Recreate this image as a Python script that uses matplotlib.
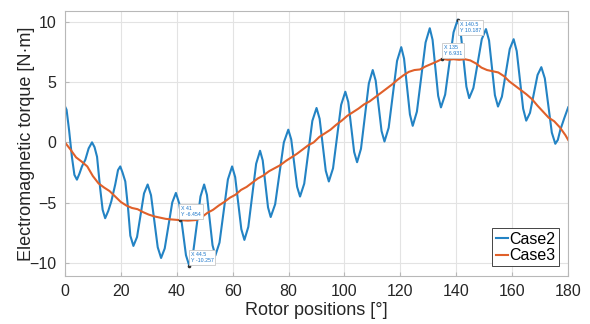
import matplotlib
matplotlib.use('Agg')
import matplotlib.pyplot as plt

# Case2 : torque with ripple
case2_x = [0, 0.6, 1.5, 2.5, 3.4, 4.3, 5.2, 6.1, 7.3, 8.5, 9.7,
	10.6, 11.5, 12.6, 13.5, 14.4, 15.5, 16.6, 18.0, 19.0, 19.8,
	20.6, 21.6, 22.6, 23.4, 24.5, 25.8, 27.05, 28.3, 29.6,
	30.8, 32.0, 33.2, 34.4, 35.7, 37.05, 38.4, 39.7,
	40.9, 42.1, 43.3, 44.5, 45.8, 47.15, 48.5, 49.8,
	50.8, 51.8, 52.8, 53.8, 55.3, 56.8, 58.3, 59.8,
	60.9, 62.0, 63.1, 64.2, 65.6, 67.0, 68.4, 69.8,
	70.75, 71.7, 72.65, 73.6, 75.2, 76.75, 78.3, 79.9,
	80.95, 82.0, 83.05, 84.1, 85.6, 87.05, 88.5, 90.0,
	91.1, 92.2, 93.3, 94.4, 95.9, 97.35, 98.8, 100.3,
	101.35, 102.4, 103.45, 104.5, 105.9, 107.3, 108.7, 110.1,
	111.15, 112.2, 113.25, 114.3, 115.8, 117.3, 118.8, 120.3,
	121.3, 122.35, 123.4, 124.4, 125.9, 127.45, 129.0, 130.5,
	131.5, 132.5, 133.5, 134.5, 136.0, 137.5, 139.0, 140.5,
	141.5, 142.55, 143.6, 144.6, 146.1, 147.6, 149.1, 150.6,
	151.7, 152.75, 153.8, 154.9, 156.3, 157.7, 159.1, 160.5,
	161.6, 162.75, 163.9, 165.0, 166.35, 167.7, 169.05, 170.4,
	171.65, 172.9, 174.15, 175.4, 176.3, 177.2, 178.6, 180]
case2_y = [3.0, 2.7, 1.0, -1.2, -2.7, -3.1, -2.6, -2.0, -1.45, -0.5, 0.0,
	-0.4, -1.2, -3.8, -5.6, -6.3, -5.7, -4.9, -3.5, -2.3, -2.0,
	-2.5, -3.25, -5.5, -7.75, -8.6, -7.86, -6.05, -4.24, -3.5,
	-4.39, -6.55, -8.71, -9.6, -8.81, -6.9, -4.99, -4.2,
	-5.08, -7.23, -9.37, -10.26, -9.27, -6.88, -4.49, -3.5,
	-4.36, -6.45, -8.54, -9.4, -8.32, -5.7, -3.08, -2.0,
	-2.89, -5.05, -7.21, -8.1, -7.02, -4.4, -1.78, -0.7,
	-1.5, -3.45, -5.4, -6.2, -5.14, -2.58, -0.01, 1.05,
	0.24, -1.73, -3.69, -4.5, -3.43, -0.83, 1.78, 2.85,
	1.96, -0.2, -2.36, -3.25, -2.16, 0.48, 3.11, 4.2,
	3.35, 1.28, -0.8, -1.65, -0.53, 2.18, 4.88, 6.0,
	5.13, 3.04, 0.94, 0.07, 1.21, 3.99, 6.76, 7.9,
	6.95, 4.64, 2.32, 1.37, 2.55, 5.42, 8.29, 9.47,
	8.51, 6.19, 3.86, 2.9, 3.96, 6.55, 9.13, 10.19,
	9.24, 6.93, 4.62, 3.67, 4.51, 6.54, 8.56, 9.4,
	8.46, 6.19, 3.91, 2.97, 3.79, 5.77, 7.74, 8.56,
	7.57, 5.18, 2.79, 1.8, 2.45, 4.02, 5.59, 6.24,
	5.31, 3.06, 0.81, -0.12, 0.2, 1.04, 2.0, 2.9]

# Case3 : smoother torque
case3_x = [0, 2, 4, 6, 8, 10, 12, 14, 16, 18, 20, 22, 24, 26, 28, 30, 32, 34, 36, 38,
	41, 44, 47, 49, 51, 53, 55, 57, 59, 61, 63, 65, 67, 69, 71, 73, 75, 77, 79,
	81, 83, 85, 87, 89, 91, 93, 95, 97, 99, 101, 103, 105, 107, 109, 111, 113,
	115, 117, 119, 121, 123, 125, 127, 129, 131, 133, 135, 137, 139, 141, 143,
	145, 147, 149, 151, 153, 155, 157, 159, 161, 163, 165, 167, 169, 171, 173,
	175, 177, 179, 180]
case3_y = [0.0, -0.6, -1.25, -1.6, -2.0, -2.8, -3.4, -3.75, -4.05, -4.5, -4.95,
	-5.25, -5.45, -5.55, -5.8, -6.0, -6.15, -6.25, -6.35, -6.4,
	-6.454, -6.5, -6.45, -6.2, -5.85, -5.6, -5.25, -4.95, -4.6, -4.35, -3.95,
	-3.7, -3.35, -3.0, -2.75, -2.4, -2.15, -1.9, -1.55,
	-1.25, -0.95, -0.6, -0.25, 0.0, 0.45, 0.75, 1.05, 1.45, 1.8, 2.2, 2.5,
	2.8, 3.15, 3.4, 3.75, 4.1, 4.45, 4.8, 5.2, 5.55, 5.85, 6.0, 6.05, 6.3,
	6.5, 6.7, 6.931, 6.85, 6.9, 6.85, 6.9, 6.8, 6.55, 6.2, 6.0, 5.9, 5.8,
	5.5, 5.05, 4.7, 4.35, 4.0, 3.6, 3.05, 2.55, 2.05, 1.75, 1.25, 0.6, 0.2]

# data tips (x, y, which side the box sits)
tips = [(41, -6.454, 'up'), (44.5, -10.257, 'up'), (135, 6.931, 'up'), (140.5, 10.187, 'down')]

plt.rcParams['font.family'] = ['Liberation Sans', 'DejaVu Sans']

fig = plt.figure(figsize=(5.9, 3.24), dpi=100)
ax = fig.add_axes([0.110, 0.148, 0.853, 0.818])

ax.plot(case2_x, case2_y, color='#2383c4', lw=1.5, label='Case2')
ax.plot(case3_x, case3_y, color='#e0602a', lw=1.5, label='Case3')

for tx, ty, side in tips:
	ax.plot(tx, ty, 'o', ms=1.6, color='#333333', zorder=5)
	txt = 'X %g\nY %s' % (tx, ('%.3f' % ty))
	if side == 'up':
		off = (1, 2)
		va = 'bottom'
	else:
		off = (1.5, -1.5)
		va = 'top'
	ax.annotate(txt, (tx, ty), xytext=off, textcoords='offset points',
		fontsize=3.8, color='#1a75c9', ha='left', va=va, linespacing=1.3,
		bbox=dict(boxstyle='square,pad=0.35', fc='white', ec='#c8c8c8', lw=0.6), zorder=6)

ax.set_xlim(0, 180)
ax.set_ylim(-11.1, 10.9)
ax.set_xticks(range(0, 181, 20))
ax.set_yticks([-10, -5, 0, 5, 10])
ax.grid(True, color='#e3e3e3', lw=0.8)
ax.set_axisbelow(True)
for s in ax.spines.values():
	s.set_color('#b8b8b8')
	s.set_linewidth(0.8)
ax.tick_params(direction='in', length=3, color='#b8b8b8', labelsize=11.5, labelcolor='#262626', pad=6)
ax.set_xlabel('Rotor positions [°]', fontsize=13, color='#262626', labelpad=2)
ax.set_ylabel('Electromagnetic torque [N·m]', fontsize=13, color='#262626', labelpad=-4)

leg = ax.legend(loc='lower right', fontsize=11.5, handlelength=0.75, handletextpad=0.1,
	borderpad=0.2, labelspacing=0.1, fancybox=False, framealpha=1, borderaxespad=0.6)
leg.get_frame().set_edgecolor('#262626')
leg.get_frame().set_linewidth(0.6)

fig.savefig('out.png', dpi=100)
